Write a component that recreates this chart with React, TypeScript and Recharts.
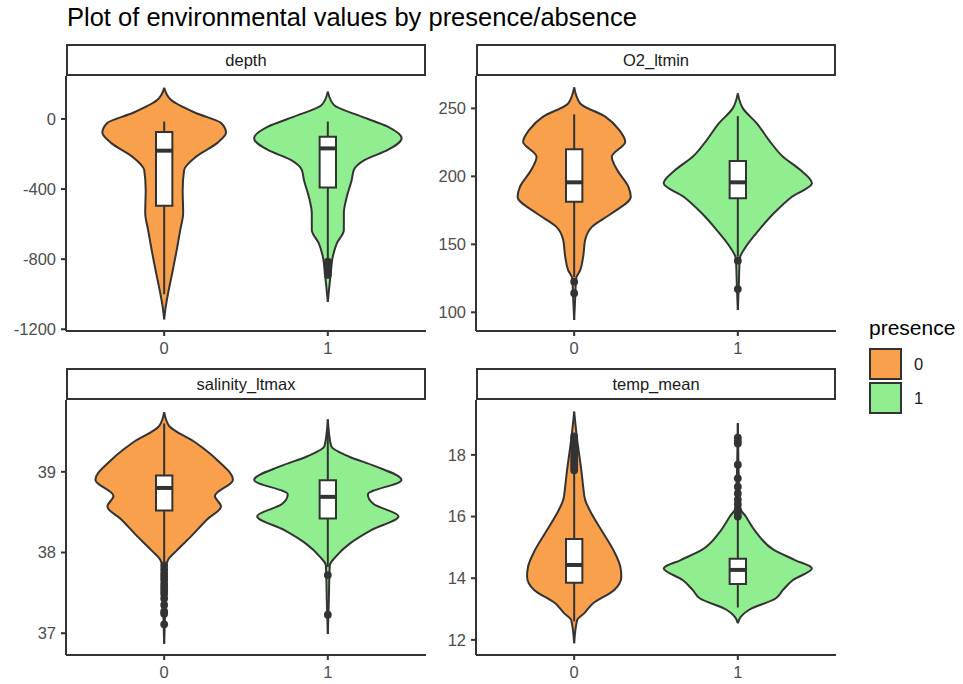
import React from "react";
import { ComposedChart, Area, Scatter, XAxis, YAxis, ReferenceArea, ReferenceLine } from "recharts";

// presence groups, drawn at x = 1 and x = 2
const groups = ["0", "1"];
const groupFills = ["#F9A04C", "#90EE90"];
const ink = "#333333";

// violin outlines: value levels and half-width (in category units) at each level
const depthLevels0 = [178, 109, 34, -23, -78, -138, -215, -291, -406, -537, -634, -766, -880, -994, -1074, -1144];
const depthWidths0 = [0, 0.041, 0.193, 0.348, 0.378, 0.323, 0.195, 0.122, 0.113, 0.116, 0.098, 0.073, 0.049, 0.024, 0.009, 0];
const depthLevels1 = [156, 80, 13, -44, -110, -177, -234, -291, -349, -444, -539, -634, -710, -787, -880, -958, -1044];
const depthWidths1 = [0, 0.037, 0.207, 0.366, 0.451, 0.366, 0.226, 0.159, 0.146, 0.116, 0.098, 0.098, 0.055, 0.03, 0.018, 0.009, 0];

const o2Levels0 = [265.4, 253.7, 243.9, 234, 225.5, 214.4, 204.6, 192.4, 185, 172.8, 163, 153.2, 140.9, 131, 125, 110, 94.3];
const o2Widths0 = [0, 0.036, 0.19, 0.276, 0.312, 0.23, 0.263, 0.331, 0.346, 0.23, 0.11, 0.067, 0.055, 0.037, 0.012, 0.006, 0];
const o2Levels1 = [261, 250, 239, 226.7, 214.4, 204.6, 194.9, 185, 172.8, 160.5, 148.2, 139.7, 120, 101.7];
const o2Widths1 = [0, 0.031, 0.116, 0.19, 0.276, 0.383, 0.453, 0.331, 0.22, 0.129, 0.049, 0.012, 0.006, 0];

const salLevels0 = [39.74, 39.57, 39.36, 39.15, 38.9, 38.7, 38.57, 38.41, 38.2, 38.03, 37.91, 37.8, 37.3, 36.87];
const salWidths0 = [0, 0.03, 0.193, 0.322, 0.42, 0.31, 0.347, 0.262, 0.164, 0.079, 0.024, 0.009, 0.006, 0];
const salLevels1 = [39.65, 39.32, 39.19, 39.07, 38.9, 38.72, 38.6, 38.45, 38.28, 38.11, 37.95, 37.84, 37.4, 36.99];
const salWidths1 = [0, 0.02, 0.128, 0.289, 0.45, 0.245, 0.28, 0.432, 0.268, 0.134, 0.049, 0.012, 0.006, 0];

const tempLevels0 = [19.4, 18.5, 17.4, 16.97, 16.54, 16.0, 15.46, 14.92, 14.37, 14.05, 13.62, 13.19, 12.86, 12.64, 11.89];
const tempWidths0 = [0, 0.018, 0.046, 0.055, 0.067, 0.116, 0.178, 0.239, 0.282, 0.288, 0.245, 0.116, 0.061, 0.018, 0];
const tempLevels1 = [19.03, 16.3, 16.0, 15.46, 14.92, 14.59, 14.32, 13.94, 13.62, 13.35, 12.97, 12.75, 12.54];
const tempWidths1 = [0, 0.012, 0.049, 0.116, 0.22, 0.349, 0.453, 0.337, 0.276, 0.233, 0.067, 0.018, 0];

// boxplots: [lower whisker, q1, median, q3, upper whisker]
const depthBox0 = [-1000, -495, -181, -75, -15];
const depthBox1 = [-806, -391, -168, -101, -15];
const o2Box0 = [126, 181.3, 195.6, 220, 245.6];
const o2Box1 = [141, 183.8, 195.6, 211.2, 244.3];
const salBox0 = [37.88, 38.52, 38.8, 38.954, 39.6];
const salBox1 = [37.82, 38.42, 38.69, 38.895, 39.5];
const tempBox0 = [12.6, 13.85, 14.43, 15.27, 17.45];
const tempBox1 = [13.05, 13.81, 14.27, 14.63, 15.95];

// outliers
const depthOut0: number[] = [];
const depthOut1 = [-814, -828, -842, -855, -868, -880, -890];
const o2Out0 = [122.5, 114];
const o2Out1 = [138, 117.1];
const salOut0 = [37.84, 37.79, 37.74, 37.7, 37.66, 37.61, 37.57, 37.53, 37.49, 37.43, 37.35, 37.27, 37.24, 37.11];
const salOut1 = [37.72, 37.23];
const tempOut0 = [17.5, 17.6, 17.7, 17.8, 17.9, 18.0, 18.1, 18.2, 18.35, 18.5, 18.6];
const tempOut1 = [16.0, 16.1, 16.25, 16.4, 16.55, 16.75, 16.97, 17.24, 17.68, 18.37, 18.45, 18.56];

// axes
const depthTicks = [-1200, -800, -400, 0];
const o2Ticks = [100, 150, 200, 250];
const salTicks = [37, 38, 39];
const tempTicks = [12, 14, 16, 18];

const font = "'Liberation Sans', Arial, Helvetica, sans-serif";
const PLOT_W = 360;
const PLOT_H = 255;
const AXIS_W = 66;
const XAXIS_H = 30;
const M_TOP = 4;
const M_RIGHT = 6;
const BOX_HALF = 0.05;
const LW = 2;

type Row = { y: number; lo: number; hi: number };

// one outline table per violin, centred on its group position
function violinRows(levels: number[], widths: number[], center: number): Row[] {
  return levels.map((y, i) => ({ y, lo: center - widths[i], hi: center + widths[i] }));
}

const rangeKey = (r: Row) => [r.lo, r.hi];

type Spec = {
  name: string;
  left: number;
  top: number;
  domain: [number, number];
  ticks: number[];
  levels: number[][];
  widths: number[][];
  boxes: number[][];
  outliers: number[][];
};

const panels: Spec[] = [
  { name: "depth", left: 66, top: 76, domain: [-1210, 245], ticks: depthTicks, levels: [depthLevels0, depthLevels1], widths: [depthWidths0, depthWidths1], boxes: [depthBox0, depthBox1], outliers: [depthOut0, depthOut1] },
  { name: "O2_ltmin", left: 476, top: 76, domain: [86.25, 273.8], ticks: o2Ticks, levels: [o2Levels0, o2Levels1], widths: [o2Widths0, o2Widths1], boxes: [o2Box0, o2Box1], outliers: [o2Out0, o2Out1] },
  { name: "salinity_ltmax", left: 66, top: 400, domain: [36.73, 39.89], ticks: salTicks, levels: [salLevels0, salLevels1], widths: [salWidths0, salWidths1], boxes: [salBox0, salBox1], outliers: [salOut0, salOut1] },
  { name: "temp_mean", left: 476, top: 400, domain: [11.51, 19.78], ticks: tempTicks, levels: [tempLevels0, tempLevels1], widths: [tempWidths0, tempWidths1], boxes: [tempBox0, tempBox1], outliers: [tempOut0, tempOut1] },
];

const Dot = (p: any) => <circle cx={p.cx} cy={p.cy} r={3.9} fill={ink} />;

function Panel({ spec }: { spec: Spec }) {
  const axisStyle = { stroke: ink, strokeWidth: LW };
  return (
    <>
      <div
        style={{
          position: "absolute", left: spec.left, top: spec.top - 32, width: PLOT_W, height: 32,
          boxSizing: "border-box", border: `2px solid ${ink}`, background: "#fff",
          display: "flex", alignItems: "center", justifyContent: "center", fontSize: 16.5, color: "#1a1a1a",
        }}
      >
        {spec.name}
      </div>
      <div style={{ position: "absolute", left: spec.left - AXIS_W, top: spec.top - M_TOP }}>
        <ComposedChart
          layout="vertical"
          width={AXIS_W + PLOT_W + M_RIGHT}
          height={M_TOP + PLOT_H + XAXIS_H}
          margin={{ top: M_TOP, right: M_RIGHT, bottom: 0, left: 0 }}
        >
          <XAxis
            type="number" domain={[0.4, 2.6]} ticks={[1, 2]} interval={0} allowDataOverflow
            tickFormatter={(v: number) => groups[v - 1]} height={XAXIS_H}
            axisLine={axisStyle} tickLine={axisStyle} tickSize={5} tickMargin={6}
            tick={{ fill: "#4D4D4D", fontSize: 16.5 }}
          />
          <YAxis
            type="number" dataKey="y" domain={spec.domain} ticks={spec.ticks} interval={0} allowDataOverflow reversed
            width={AXIS_W} axisLine={axisStyle} tickLine={axisStyle} tickSize={5} tickMargin={5}
            tick={{ fill: "#4D4D4D", fontSize: 16.5 }}
          />
          {groups.map((g, gi) => (
            <Area
              key={`v${g}`}
              data={violinRows(spec.levels[gi], spec.widths[gi], gi + 1)}
              type="monotone"
              dataKey={rangeKey}
              fill={groupFills[gi]}
              fillOpacity={1}
              stroke={ink}
              strokeWidth={LW}
              dot={false}
              activeDot={false}
              isAnimationActive={false}
            />
          ))}
          {groups.map((g, gi) => {
            const [lo, q1, med, q3, hi] = spec.boxes[gi];
            const c = gi + 1;
            return (
              <React.Fragment key={`b${g}`}>
                <ReferenceLine segment={[{ x: c, y: lo }, { x: c, y: q1 }]} stroke={ink} strokeWidth={LW} />
                <ReferenceLine segment={[{ x: c, y: q3 }, { x: c, y: hi }]} stroke={ink} strokeWidth={LW} />
                <ReferenceArea x1={c - BOX_HALF} x2={c + BOX_HALF} y1={q1} y2={q3} fill="#ffffff" fillOpacity={1} stroke={ink} strokeWidth={LW} />
                <ReferenceLine segment={[{ x: c - BOX_HALF, y: med }, { x: c + BOX_HALF, y: med }]} stroke={ink} strokeWidth={LW * 2} />
              </React.Fragment>
            );
          })}
          {groups.map((g, gi) => (
            <Scatter
              key={`o${g}`}
              data={spec.outliers[gi].map((v) => ({ x: gi + 1, y: v }))}
              dataKey="x"
              shape={Dot}
              isAnimationActive={false}
            />
          ))}
        </ComposedChart>
      </div>
    </>
  );
}

export default function App() {
  return (
    <div style={{ position: "absolute", left: 0, top: 0, width: 963, height: 684, background: "#fff", fontFamily: font }}>
      <div style={{ position: "absolute", left: 67, top: 5, fontSize: 25.5, lineHeight: 1, color: "#000" }}>
        Plot of environmental values by presence/absence
      </div>
      {panels.map((p) => (
        <Panel key={p.name} spec={p} />
      ))}
      <div style={{ position: "absolute", left: 869, top: 317, fontSize: 21, lineHeight: 1, color: "#000" }}>presence</div>
      {groups.map((g, gi) => (
        <React.Fragment key={`l${g}`}>
          <div
            style={{
              position: "absolute", left: 869, top: 348 + gi * 34, width: 33, height: 32, boxSizing: "border-box",
              border: `2px solid ${ink}`, background: groupFills[gi],
            }}
          />
          <div
            style={{
              position: "absolute", left: 914, top: 348 + gi * 34, height: 32, display: "flex", alignItems: "center",
              fontSize: 16.5, color: "#1a1a1a",
            }}
          >
            {g}
          </div>
        </React.Fragment>
      ))}
    </div>
  );
}
